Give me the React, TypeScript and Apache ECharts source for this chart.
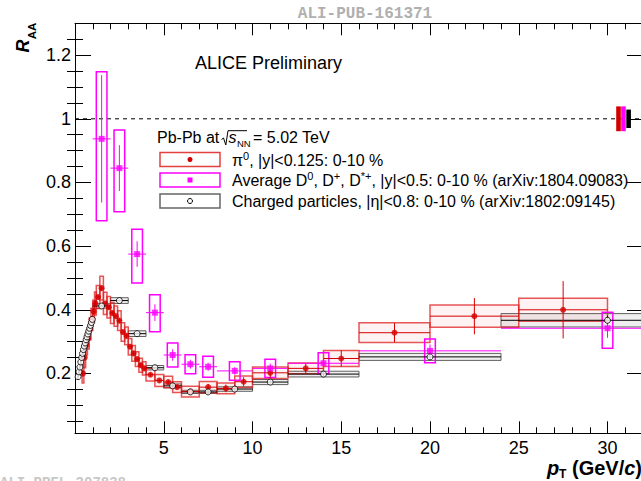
import React, { useEffect, useRef } from "react";
import * as echarts from "echarts";

// ---------- Data ----------
// Charged particles, |eta|<0.8, 0-10 %
const chPt = [0.175, 0.225, 0.275, 0.325, 0.375, 0.425, 0.475, 0.525, 0.575, 0.625, 0.675, 0.725, 0.775, 0.825, 0.875, 0.925, 0.975, 1.5, 2.5, 3.5, 4.5, 5.5, 6.5, 7.5, 9, 11, 14, 20, 30];
const chLo = [0.15, 0.2, 0.25, 0.3, 0.35, 0.4, 0.45, 0.5, 0.55, 0.6, 0.65, 0.7, 0.75, 0.8, 0.85, 0.9, 0.95, 1, 2, 3, 4, 5, 6, 7, 8, 10, 12, 16, 24];
const chHi = [0.2, 0.25, 0.3, 0.35, 0.4, 0.45, 0.5, 0.55, 0.6, 0.65, 0.7, 0.75, 0.8, 0.85, 0.9, 0.95, 1.0, 2, 3, 4, 5, 6, 7, 8, 10, 12, 16, 24, 36];
const chRaa = [0.19, 0.205, 0.22, 0.236, 0.25, 0.263, 0.275, 0.286, 0.296, 0.306, 0.315, 0.324, 0.333, 0.342, 0.351, 0.36, 0.37, 0.412, 0.429, 0.325, 0.218, 0.161, 0.142, 0.142, 0.151, 0.173, 0.198, 0.252, 0.367];
const chStat = [0.002, 0.002, 0.002, 0.002, 0.002, 0.002, 0.002, 0.002, 0.002, 0.002, 0.002, 0.002, 0.002, 0.002, 0.002, 0.002, 0.002, 0.002, 0.003, 0.003, 0.003, 0.003, 0.003, 0.004, 0.004, 0.005, 0.006, 0.008, 0.015];
const chSys = [0.008, 0.008, 0.008, 0.008, 0.008, 0.008, 0.008, 0.008, 0.008, 0.008, 0.008, 0.008, 0.008, 0.008, 0.008, 0.008, 0.008, 0.007, 0.009, 0.009, 0.007, 0.006, 0.005, 0.005, 0.007, 0.008, 0.009, 0.011, 0.021];

// pi0, |y|<0.125, 0-10 %
const piPt = [0.45, 0.55, 0.65, 0.75, 0.85, 0.95, 1.05, 1.15, 1.3, 1.5, 1.7, 1.9, 2.1, 2.3, 2.5, 2.7, 2.9, 3.1, 3.3, 3.5, 3.7, 3.9, 4.25, 4.75, 5.25, 5.75, 6.5, 7.5, 8.5, 9.5, 11, 13, 15, 18, 22.5, 27.5];
const piLo = [0.4, 0.5, 0.6, 0.7, 0.8, 0.9, 1.0, 1.1, 1.2, 1.4, 1.6, 1.8, 2.0, 2.2, 2.4, 2.6, 2.8, 3.0, 3.2, 3.4, 3.6, 3.8, 4.0, 4.5, 5.0, 5.5, 6, 7, 8, 9, 10, 12, 14, 16, 20, 25];
const piHi = [0.5, 0.6, 0.7, 0.8, 0.9, 1.0, 1.1, 1.2, 1.4, 1.6, 1.8, 2.0, 2.2, 2.4, 2.6, 2.8, 3.0, 3.2, 3.4, 3.6, 3.8, 4.0, 4.5, 5.0, 5.5, 6.0, 7, 8, 9, 10, 12, 14, 16, 20, 25, 30];
const piRaa = [0.2, 0.25, 0.29, 0.31, 0.34, 0.37, 0.395, 0.42, 0.44, 0.468, 0.42, 0.408, 0.39, 0.38, 0.366, 0.33, 0.318, 0.284, 0.263, 0.245, 0.226, 0.216, 0.196, 0.178, 0.173, 0.157, 0.143, 0.157, 0.153, 0.174, 0.202, 0.216, 0.247, 0.328, 0.38, 0.4];
const piStat = [0.01, 0.01, 0.01, 0.01, 0.01, 0.01, 0.01, 0.01, 0.008, 0.008, 0.008, 0.008, 0.008, 0.008, 0.008, 0.008, 0.008, 0.008, 0.008, 0.008, 0.008, 0.008, 0.006, 0.006, 0.006, 0.006, 0.008, 0.01, 0.012, 0.014, 0.016, 0.016, 0.026, 0.03, 0.057, 0.09];
const piSys = [0.03, 0.032, 0.032, 0.033, 0.034, 0.035, 0.035, 0.036, 0.036, 0.037, 0.035, 0.034, 0.033, 0.032, 0.031, 0.029, 0.028, 0.026, 0.025, 0.023, 0.022, 0.021, 0.02, 0.019, 0.018, 0.017, 0.017, 0.018, 0.017, 0.018, 0.018, 0.017, 0.025, 0.031, 0.035, 0.036];

// Average D0, D+, D*+, |y|<0.5, 0-10 %
const dPt = [1.5, 2.5, 3.5, 4.5, 5.5, 6.5, 7.5, 9, 11, 14, 20, 30];
const dLo = [1, 2, 3, 4, 5, 6, 7, 8, 10, 12, 16, 24];
const dHi = [2, 3, 4, 5, 6, 7, 8, 10, 12, 16, 24, 36];
const dRaa = [0.937, 0.845, 0.575, 0.391, 0.258, 0.229, 0.221, 0.208, 0.216, 0.232, 0.271, 0.342];
const dStat = [0.2, 0.072, 0.04, 0.026, 0.018, 0.014, 0.013, 0.012, 0.015, 0.02, 0.02, 0.03];
const dSysUp = [0.211, 0.12, 0.078, 0.056, 0.038, 0.03, 0.033, 0.029, 0.029, 0.033, 0.037, 0.05];
const dSysDown = [0.257, 0.137, 0.091, 0.06, 0.038, 0.03, 0.033, 0.029, 0.029, 0.033, 0.037, 0.063];

// Normalisation uncertainties at R_AA = 1 (pi0, D, charged)
const normX = [30.62, 30.9, 31.19];
const normUnc = [0.039, 0.039, 0.029];

// Reference line
const refX = [0, 32];
const refY = 1;

// Axis ticks / labels
const xMin = 0;
const xMax = 32;
const xInterval = 5;
const yMin = 0.012;
const yMax = 1.3;
const yMajorTicks = [0.2, 0.4, 0.6, 0.8, 1, 1.2];
const yMinorTicks = [0.05, 0.1, 0.15, 0.25, 0.3, 0.35, 0.45, 0.5, 0.55, 0.65, 0.7, 0.75, 0.85, 0.9, 0.95, 1.05, 1.1, 1.15, 1.25];

// ---------- Styling ----------
const FONT = '"Liberation Sans", Arial, Helvetica, sans-serif';
const MONO = '"Liberation Mono", "Courier New", monospace';
const RED = "#d40000";
const MAGENTA = "#ff00ff";
const D_BOX_HALF = 0.3;
const NORM_HALF = 0.13;

const makeBox = (style: any) => (params: any, api: any) => {
  const a = api.coord([api.value(2), api.value(5)]);
  const b = api.coord([api.value(3), api.value(4)]);
  return {
    type: "rect",
    shape: { x: a[0], y: a[1], width: b[0] - a[0], height: b[1] - a[1] },
    style,
  };
};

const makeErr = (color: string, lw: number) => (params: any, api: any) => {
  const c = api.coord([api.value(0), api.value(1)]);
  const l = api.coord([api.value(2), api.value(1)]);
  const r = api.coord([api.value(3), api.value(1)]);
  const lo = api.coord([api.value(0), api.value(4)]);
  const hi = api.coord([api.value(0), api.value(5)]);
  return {
    type: "group",
    children: [
      { type: "line", shape: { x1: l[0], y1: c[1], x2: r[0], y2: c[1] }, style: { stroke: color, lineWidth: lw } },
      { type: "line", shape: { x1: c[0], y1: lo[1], x2: c[0], y2: hi[1] }, style: { stroke: color, lineWidth: lw } },
    ],
  };
};

const boxEncode = { x: [0, 2, 3], y: [1, 4, 5] };

function buildOption() {
  const chBox = chPt.map((x, i) => [x, chRaa[i], chLo[i], chHi[i], chRaa[i] - chSys[i], chRaa[i] + chSys[i]]);
  const piBox = piPt.map((x, i) => [x, piRaa[i], piLo[i], piHi[i], piRaa[i] - piSys[i], piRaa[i] + piSys[i]]);
  const dBox = dPt.map((x, i) => [x, dRaa[i], x - D_BOX_HALF, x + D_BOX_HALF, dRaa[i] - dSysDown[i], dRaa[i] + dSysUp[i]]);
  const chErr = chPt.map((x, i) => [x, chRaa[i], chLo[i], chHi[i], chRaa[i] - chStat[i], chRaa[i] + chStat[i]]);
  const piErr = piPt.map((x, i) => [x, piRaa[i], piLo[i], piHi[i], piRaa[i] - piStat[i], piRaa[i] + piStat[i]]);
  const dErr = dPt.map((x, i) => [x, dRaa[i], dLo[i], dHi[i], dRaa[i] - dStat[i], dRaa[i] + dStat[i]]);
  const normColors = [RED, MAGENTA, "#000000"];
  const normBox = normX.map((x, i) => [x, refY, x - NORM_HALF, x + NORM_HALF, refY - normUnc[i], refY + normUnc[i], i]);

  const axisLineStyle = { color: "#000", width: 1 };
  const xCommon = {
    type: "value",
    min: xMin,
    max: xMax,
    interval: xInterval,
    axisLine: { show: true, onZero: false, lineStyle: axisLineStyle },
    axisTick: { show: true, inside: true, length: 12, lineStyle: axisLineStyle },
    minorTick: { show: true, splitNumber: 5, length: 6, lineStyle: axisLineStyle },
    splitLine: { show: false },
    minorSplitLine: { show: false },
  };
  const yCommon = { type: "value", min: yMin, max: yMax, splitLine: { show: false } };

  return {
    animation: false,
    backgroundColor: "#ffffff",
    grid: { left: 75, top: 23.3, width: 568, height: 410, containLabel: false, outerBoundsMode: "none" },
    xAxis: [
      {
        ...xCommon,
        position: "bottom",
        axisLabel: {
          show: true,
          showMaxLabel: false,
          formatter: (v: number) => (v === 0 || v % xInterval !== 0 ? "" : String(v)),
          fontSize: 18,
          fontFamily: FONT,
          color: "#000",
          margin: 6,
        },
      },
      { ...xCommon, position: "top", axisLabel: { show: false } },
    ],
    yAxis: [
      {
        ...yCommon,
        position: "left",
        axisLine: { show: true, onZero: false, lineStyle: axisLineStyle },
        axisTick: { show: true, inside: true, length: 16, customValues: yMajorTicks, lineStyle: axisLineStyle },
        axisLabel: {
          show: true,
          customValues: yMajorTicks,
          formatter: (v: number) => String(Math.round(v * 10) / 10),
          fontSize: 18,
          fontFamily: FONT,
          color: "#000",
          margin: 4,
        },
      },
      {
        ...yCommon,
        position: "left",
        axisLine: { show: false },
        axisTick: { show: true, inside: true, length: 8, customValues: yMinorTicks, lineStyle: axisLineStyle },
        axisLabel: { show: false },
      },
      {
        ...yCommon,
        position: "right",
        axisLine: { show: true, onZero: false, lineStyle: axisLineStyle },
        axisTick: { show: true, inside: true, length: 16, customValues: yMajorTicks, lineStyle: axisLineStyle },
        axisLabel: { show: false },
      },
      {
        ...yCommon,
        position: "right",
        axisLine: { show: false },
        axisTick: { show: true, inside: true, length: 8, customValues: yMinorTicks, lineStyle: axisLineStyle },
        axisLabel: { show: false },
      },
    ],
    series: [
      {
        type: "line",
        data: refX.map((x) => [x, refY]),
        symbol: "none",
        silent: true,
        lineStyle: { color: "#000", width: 1, type: [4, 4] },
        z: 1,
      },
      {
        type: "custom",
        data: chBox,
        encode: boxEncode,
        renderItem: makeBox({ fill: "rgba(120,120,120,0.12)", stroke: "#606060", lineWidth: 1 }),
        silent: true,
        z: 2,
      },
      {
        type: "custom",
        data: piBox,
        encode: boxEncode,
        renderItem: makeBox({ fill: "rgba(255,0,0,0.05)", stroke: "rgba(222,30,30,0.75)", lineWidth: 1.5 }),
        silent: true,
        z: 2,
      },
      {
        type: "custom",
        data: dBox,
        encode: boxEncode,
        renderItem: makeBox({ fill: "none", stroke: MAGENTA, lineWidth: 1.5 }),
        silent: true,
        z: 2,
      },
      {
        type: "custom",
        data: normBox,
        encode: boxEncode,
        renderItem: (params: any, api: any) => {
          const a = api.coord([api.value(2), api.value(5)]);
          const b = api.coord([api.value(3), api.value(4)]);
          return {
            type: "rect",
            shape: { x: a[0], y: a[1], width: b[0] - a[0], height: b[1] - a[1] },
            style: { fill: normColors[api.value(6)] },
          };
        },
        silent: true,
        z: 3,
      },
      { type: "custom", data: chErr, encode: boxEncode, renderItem: makeErr("#000", 1), silent: true, z: 3 },
      { type: "custom", data: piErr, encode: boxEncode, renderItem: makeErr(RED, 1), silent: true, z: 3 },
      { type: "custom", data: dErr, encode: boxEncode, renderItem: makeErr(MAGENTA, 1), silent: true, z: 3 },
      {
        type: "scatter",
        data: piPt.map((x, i) => [x, piRaa[i]]),
        symbol: "circle",
        symbolSize: 6,
        itemStyle: { color: RED },
        silent: true,
        z: 4,
      },
      {
        type: "scatter",
        data: dPt.map((x, i) => [x, dRaa[i]]),
        symbol: "rect",
        symbolSize: 6,
        itemStyle: { color: MAGENTA },
        silent: true,
        z: 4,
      },
      {
        type: "scatter",
        data: chPt.map((x, i) => [x, chRaa[i]]),
        symbol: "circle",
        symbolSize: 6,
        itemStyle: { color: "#ffffff", borderColor: "#000", borderWidth: 1 },
        silent: true,
        z: 5,
      },
    ],
    graphic: [
      {
        type: "text",
        x: 365,
        y: 14,
        style: { text: "ALI-PUB-161371", fontFamily: MONO, fontWeight: "bold", fontSize: 16, fill: "#b0b0b0", align: "center", verticalAlign: "middle" },
      },
      {
        type: "text",
        x: 0,
        y: 483,
        style: { text: "ALI-PREL-307838", fontFamily: MONO, fontWeight: "bold", fontSize: 14, fill: "#c8c8c8", align: "left", verticalAlign: "middle" },
      },
      {
        type: "text",
        x: 195,
        y: 62.7,
        style: { text: "ALICE Preliminary", fontFamily: FONT, fontSize: 18, fill: "#000", align: "left", verticalAlign: "middle" },
      },
      // y-axis title R_AA (rotated)
      {
        type: "text",
        x: 22.5,
        y: 46,
        rotation: Math.PI / 2,
        style: { text: "R", fontFamily: FONT, fontWeight: "bold", fontStyle: "italic", fontSize: 18, fill: "#000", align: "center", verticalAlign: "middle" },
      },
      {
        type: "text",
        x: 32,
        y: 31,
        rotation: Math.PI / 2,
        style: { text: "AA", fontFamily: FONT, fontWeight: "bold", fontSize: 11.5, fill: "#000", align: "center", verticalAlign: "middle" },
      },
      // x-axis title p_T (GeV/c)
      {
        type: "text",
        x: 642,
        y: 468,
        style: {
          text: "{p|p}{sub|T}{n| (GeV/}{c|c}{n|)}",
          fontFamily: FONT,
          fontSize: 20,
          fontWeight: "bold",
          fill: "#000",
          align: "right",
          verticalAlign: "middle",
          lineHeight: 24,
          rich: {
            p: { fontFamily: FONT, fontSize: 20, fontWeight: "bold", fontStyle: "italic", lineHeight: 24 },
            sub: { fontFamily: FONT, fontSize: 12, fontWeight: "bold", lineHeight: 8, verticalAlign: "bottom" },
            n: { fontFamily: FONT, fontSize: 20, fontWeight: "bold", lineHeight: 24 },
            c: { fontFamily: FONT, fontSize: 20, fontWeight: "bold", fontStyle: "italic", lineHeight: 24 },
          },
        },
      },
      // Legend header
      {
        type: "text",
        x: 157,
        y: 137.7,
        style: { text: "Pb-Pb at", fontFamily: FONT, fontSize: 16, fill: "#000", align: "left", verticalAlign: "middle" },
      },
      {
        type: "polyline",
        shape: { points: [[221.5, 139.5], [223.5, 138], [225.8, 145], [228, 130.7], [247, 130.7]] },
        style: { stroke: "#000", lineWidth: 1, fill: "none" },
      },
      {
        type: "text",
        x: 228.5,
        y: 137.7,
        style: { text: "s", fontFamily: FONT, fontSize: 16, fontStyle: "italic", fill: "#000", align: "left", verticalAlign: "middle" },
      },
      {
        type: "text",
        x: 237,
        y: 143.5,
        style: { text: "NN", fontFamily: FONT, fontSize: 9.5, fill: "#000", align: "left", verticalAlign: "middle" },
      },
      {
        type: "text",
        x: 253,
        y: 137.7,
        style: { text: "= 5.02 TeV", fontFamily: FONT, fontSize: 16, fill: "#000", align: "left", verticalAlign: "middle" },
      },
      // Legend rows
      { type: "rect", shape: { x: 160, y: 152.5, width: 60, height: 14 }, style: { fill: "none", stroke: "rgba(222,30,30,0.85)", lineWidth: 1.5 } },
      { type: "circle", shape: { cx: 190, cy: 159.5, r: 2.5 }, style: { fill: RED } },
      { type: "rect", shape: { x: 160, y: 173, width: 60, height: 14 }, style: { fill: "none", stroke: MAGENTA, lineWidth: 1.5 } },
      { type: "rect", shape: { x: 187.5, y: 177.5, width: 5, height: 5 }, style: { fill: MAGENTA } },
      { type: "rect", shape: { x: 160, y: 194, width: 60, height: 14 }, style: { fill: "none", stroke: "#666", lineWidth: 1.5 } },
      { type: "circle", shape: { cx: 190, cy: 201, r: 2.5 }, style: { fill: "#fff", stroke: "#000", lineWidth: 1 } },
      {
        type: "text",
        x: 232,
        y: 160,
        style: {
          text: "π{sup|0}, |y|<0.125: 0-10 %",
          fontFamily: FONT,
          fontSize: 16,
          fill: "#000",
          align: "left",
          verticalAlign: "middle",
          lineHeight: 20,
          rich: { sup: { fontFamily: FONT, fontSize: 11, lineHeight: 12, verticalAlign: "top" } },
        },
      },
      {
        type: "text",
        x: 232,
        y: 180.5,
        style: {
          text: "Average D{sup|0}, D{sup|+}, D{sup|*+}, |y|<0.5: 0-10 % (arXiv:1804.09083)",
          fontFamily: FONT,
          fontSize: 16,
          fill: "#000",
          align: "left",
          verticalAlign: "middle",
          lineHeight: 20,
          rich: { sup: { fontFamily: FONT, fontSize: 11, lineHeight: 12, verticalAlign: "top" } },
        },
      },
      {
        type: "text",
        x: 232,
        y: 201.5,
        style: {
          text: "Charged particles, |η|<0.8: 0-10 % (arXiv:1802:09145)",
          fontFamily: FONT,
          fontSize: 16,
          fill: "#000",
          align: "left",
          verticalAlign: "middle",
        },
      },
    ],
  };
}

export default function App() {
  const ref = useRef<HTMLDivElement>(null);
  useEffect(() => {
    if (!ref.current) return;
    const chart = echarts.init(ref.current, null, { renderer: "svg", width: 641, height: 481 });
    chart.setOption(buildOption() as any);
    return () => chart.dispose();
  }, []);
  return (
    <div
      ref={ref}
      style={{ position: "fixed", left: 0, top: 0, width: 641, height: 481, background: "#fff" }}
    />
  );
}
